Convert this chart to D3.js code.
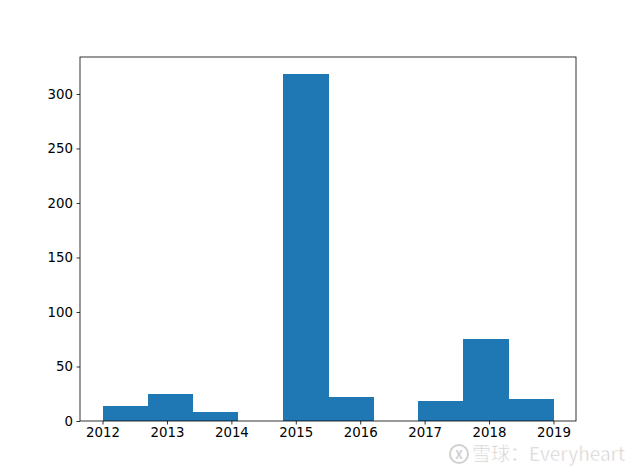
<!DOCTYPE html>
<html><head><meta charset="utf-8">
<script src="https://cdn.jsdelivr.net/npm/d3@7"></script>
<style>body{margin:0;background:#fff}svg{display:block}</style>
</head><body>
<script>
const binEdges = [2012, 2012.7, 2013.4, 2014.1, 2014.8, 2015.5, 2016.2, 2016.9, 2017.6, 2018.3, 2019];
const counts = [14, 25, 8, 0, 318, 22, 0, 18, 75, 20];
const xTicks = [2012, 2013, 2014, 2015, 2016, 2017, 2018, 2019];
const yTicks = [0, 50, 100, 150, 200, 250, 300];

const W = 640, H = 473;
const m = {l: 80, r: 576, t: 57, b: 421};
const svg = d3.select("body").append("svg").attr("width", W).attr("height", H);
const span = binEdges[binEdges.length-1] - binEdges[0];
const x = d3.scaleLinear().domain([binEdges[0] - span*0.05, binEdges[binEdges.length-1] + span*0.05]).range([m.l, m.r]);
const y = d3.scaleLinear().domain([0, d3.max(counts)*1.05]).range([m.b, m.t]);

const bins = counts.map((c, i) => ({x0: binEdges[i], x1: binEdges[i+1], c}));
svg.append("g").attr("shape-rendering", "crispEdges").selectAll("rect").data(bins.filter(d => d.c > 0)).join("rect")
  .attr("x", d => x(d.x0)).attr("width", d => x(d.x1) - x(d.x0) + 0.5)
  .attr("y", d => y(d.c)).attr("height", d => y(0) - y(d.c))
  .attr("fill", "#1f77b4");

const font = "DejaVu Sans, sans-serif";
const xAxis = svg.append("g").attr("transform", `translate(0,${m.b})`)
  .call(d3.axisBottom(x).tickValues(xTicks).tickFormat(d3.format("d")).tickSize(3.5).tickPadding(3.5));
const yAxis = svg.append("g").attr("transform", `translate(${m.l},0)`)
  .call(d3.axisLeft(y).tickValues(yTicks).tickFormat(d3.format("d")).tickSize(3.5).tickPadding(3.5));
[xAxis, yAxis].forEach(g => {
  g.select(".domain").remove();
  g.selectAll("line").attr("stroke", "#000").attr("stroke-width", 0.8);
  g.selectAll("text").attr("font-family", font).attr("font-size", "13.33px").attr("fill", "#000");
});
svg.append("rect").attr("x", m.l).attr("y", m.t).attr("width", m.r - m.l).attr("height", m.b - m.t)
  .attr("fill", "none").attr("stroke", "#000").attr("stroke-width", 0.8);

// watermark
const wm = svg.append("g").attr("fill", "#d0d0d0").attr("font-family", "Noto Sans CJK SC, DejaVu Sans, sans-serif");
wm.append("circle").attr("cx", 459).attr("cy", 454).attr("r", 9).attr("fill", "none").attr("stroke", "#d0d0d0").attr("stroke-width", 2);
wm.append("text").attr("x", 459).attr("y", 459).attr("text-anchor", "middle").attr("font-size", "12px").attr("font-weight", "bold").text("X");
wm.append("text").attr("x", 472).attr("y", 461).attr("font-size", "19px")
  .attr("stroke", "#fff").attr("stroke-width", 0.5).text("雪球：Everyheart");
</script>
</body></html>
